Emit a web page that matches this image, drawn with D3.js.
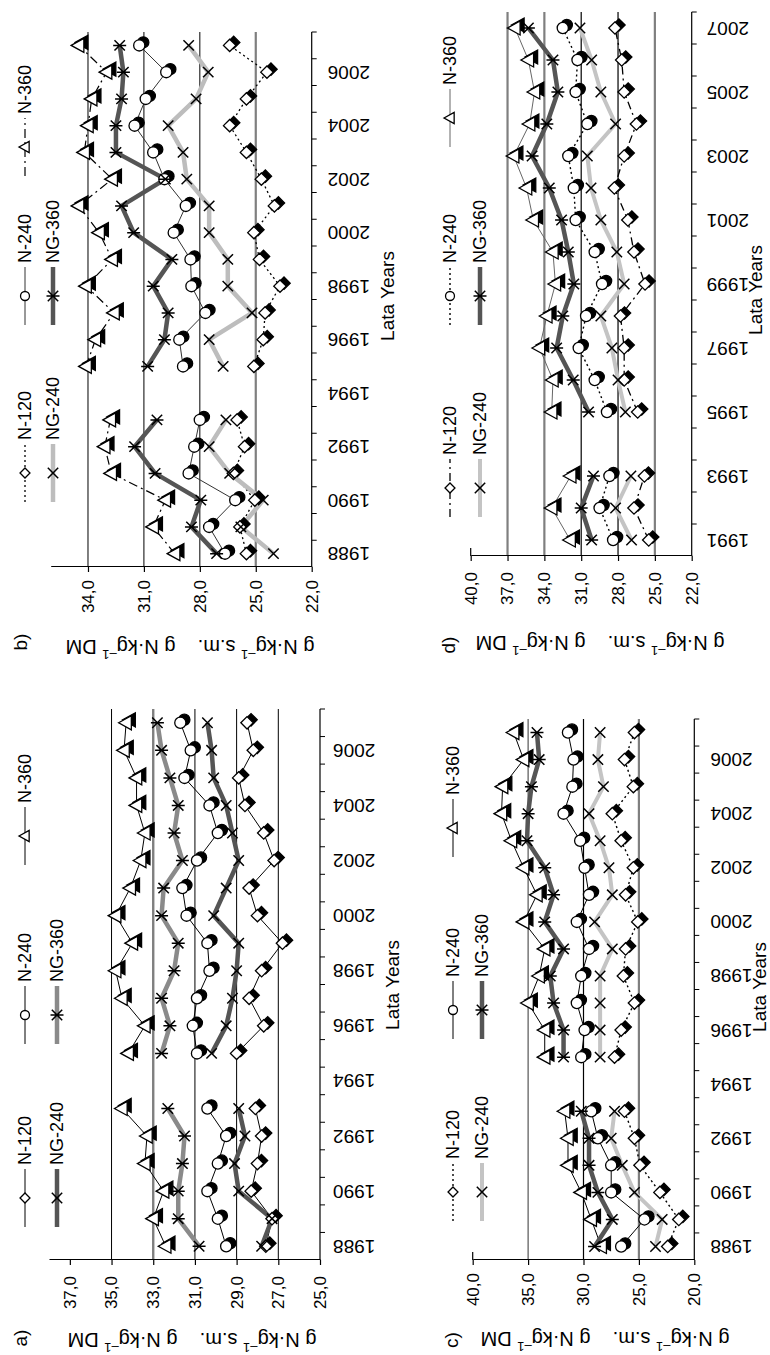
<!DOCTYPE html>
<html><head><meta charset="utf-8">
<script src="https://cdn.jsdelivr.net/npm/d3@7"></script>
<style>body{margin:0;background:#fff} text{font-family:"Liberation Sans",Arial,sans-serif;fill:#000}</style>
</head><body><svg id="c" width="770" height="1355"></svg>
<script>
// ---------- categories ----------
const yearsABC = [1988,1989,1990,1991,1992,1993,1994,1995,1996,1997,1998,1999,2000,2001,2002,2003,2004,2005,2006,2007];
const yearsD = [1991,1992,1993,1994,1995,1996,1997,1998,1999,2000,2001,2002,2003,2004,2005,2006,2007];
const yearLabelsABC = [1988,1990,1992,1994,1996,1998,2000,2002,2004,2006];
const yearLabelsD = [1991,1993,1995,1997,1999,2001,2003,2005,2007];
const ticksA = [25,27,29,31,33,35,37];
const ticksB = [22,25,28,31,34];
const ticksC = [20,25,30,35,40];
const ticksD = [22,25,28,31,34,37,40];
const seriesNames = ["N-120","N-240","N-360","NG-240","NG-360"];

// ---------- panel a ----------
const a_N120  = [27.6,27.3,28.3,28.0,27.8,28.1,null,29.0,27.7,28.4,27.8,26.8,28.0,28.4,27.2,27.7,28.6,28.9,28.2,28.5];
const a_N240  = [29.5,29.9,30.4,29.9,29.5,30.4,null,30.9,31.1,30.9,30.3,30.4,31.4,31.6,30.9,29.9,30.3,31.5,31.2,31.7];
const a_N360  = [32.4,33.0,32.5,33.4,33.3,34.5,null,34.2,33.4,34.5,34.8,34.0,34.8,34.1,33.6,33.4,33.8,33.8,34.4,34.3];
const a_NG240 = [27.8,27.3,28.9,29.1,28.6,28.9,null,30.2,29.5,29.2,29.0,28.9,30.1,29.5,28.9,29.2,29.5,30.1,30.2,30.4];
const a_NG360 = [30.8,31.8,31.8,31.6,31.5,32.3,null,32.6,32.2,32.6,32.0,31.8,32.6,32.5,31.6,32.0,31.8,32.2,32.6,32.8];
// ---------- panel b ----------
const b_N120  = [25.5,25.85,25.05,26.2,25.6,26.0,null,25.1,24.6,24.5,23.7,24.8,25.1,24.0,24.7,25.5,26.4,25.5,24.4,26.4];
const b_N240  = [26.65,27.5,26.1,28.6,28.3,28.0,null,28.9,29.1,27.7,28.45,28.5,29.4,28.75,29.9,30.5,31.5,30.9,29.8,31.25];
const b_N360  = [29.35,30.5,29.85,32.75,33.1,32.8,null,34.1,33.6,32.6,34.1,32.7,33.4,34.5,32.7,34.2,34.0,33.8,33.0,34.5];
const b_NG240 = [24.05,25.8,24.6,26.4,27.5,26.6,null,26.75,27.5,25.2,26.5,26.5,27.5,27.5,28.7,28.9,29.7,28.2,27.55,28.6];
const b_NG360 = [27.1,28.45,27.95,30.4,31.5,30.3,null,30.8,29.9,29.7,30.5,29.5,31.55,32.2,29.85,32.5,32.5,32.2,32.1,32.3];
// ---------- panel c ----------
const c_N120  = [22.4,21.4,23.1,24.9,25.4,26.3,null,27.2,26.6,25.4,26.4,26.2,25.1,26.2,25.5,26.6,27.4,25.5,26.3,25.4];
const c_N240  = [26.6,24.5,27.5,27.5,28.7,29.3,null,30.2,29.9,30.6,30.2,29.5,30.6,29.5,29.9,30.3,31.8,31.0,30.9,31.4];
const c_N360  = [28.4,29.3,30.2,31.4,31.4,31.7,null,33.5,33.5,35.0,34.0,33.5,35.4,34.2,35.4,36.5,37.4,37.3,35.4,36.3];
const c_NG240 = [23.5,22.9,25.4,26.5,27.5,27.2,null,28.5,28.5,28.5,28.5,27.4,29.0,27.4,27.7,28.5,29.5,28.2,28.7,28.5];
const c_NG360 = [29.0,27.4,28.7,29.5,29.5,30.2,null,31.8,31.8,32.7,33.0,31.8,33.5,32.7,33.5,35.1,35.0,34.7,34.0,34.2];
// ---------- panel d ----------
const d_N120  = [25.5,26.7,25.85,null,26.4,27.5,27.5,27.8,25.8,26.7,27.2,28.3,27.5,26.5,27.5,27.7,28.25];
const d_N240  = [28.4,29.5,28.7,null,28.9,29.9,31.2,30.6,29.3,29.9,31.45,31.6,32.05,30.5,31.45,31.3,32.5];
const d_N360  = [31.9,33.4,31.85,null,33.4,33.3,34.4,33.8,33.1,33.3,34.9,35.45,36.5,35.2,34.8,35.3,36.4];
const d_NG240 = [26.9,28.2,26.95,null,27.4,28.0,28.5,29.4,27.5,28.1,29.4,30.2,30.5,28.2,29.4,30.15,31.1];
const d_NG360 = [30.15,31.0,30.0,null,30.4,31.65,33.0,32.5,31.6,32.05,32.6,33.6,35.0,33.8,32.9,33.3,35.3];

const markers = ["diamond","circle","triangle","x","asterisk"];

const panels = [
 {tag:"a)", ox:0, oy:0, years:yearsABC, yearLabels:yearLabelsABC, data:[a_N120,a_N240,a_N360,a_NG240,a_NG360],
  x0:95, x1:646, domain:[25,38], yb:320, yt:49, ticks:ticksA, stub:false,
  grid:[[35,"#000",1],[33,"#7f7f7f",2.4],[31,"#000",1],[29,"#000",1],[27,"#000",1]],
  tickGap:16, yearGap:13, title:[15,192], tagPos:[17,20], xtitle:[370,392],
  legRows:[25,57], legCols:[157,340,519],
  styles:[{c:"#000",w:1},{c:"#000",w:1},{c:"#000",w:1},{c:"#555",w:4.5},{c:"#8a8a8a",w:4.5}]},
 {tag:"b)", ox:675, oy:0, years:yearsABC, yearLabels:yearLabelsABC, data:[b_N120,b_N240,b_N360,b_NG240,b_NG360],
  x0:113, x1:648, domain:[22,36], yb:311.7, yt:50.7, ticks:ticksB, stub:false,
  grid:[[34,"#000",1],[31,"#000",1],[28,"#000",1],[25,"#7f7f7f",2.2]],
  tickGap:13, yearGap:16, title:[33,190], tagPos:[38,20], xtitle:[384,387],
  legRows:[25,53], legCols:[207,384,533],
  styles:[{c:"#000",w:1.3,d:"2,3"},{c:"#333",w:1},{c:"#000",w:1.2,d:"9,4,2,4"},{c:"#bdbdbd",w:4.5},{c:"#555",w:4.5}]},
 {tag:"c)", ox:0, oy:385, years:yearsABC, yearLabels:yearLabelsABC, data:[c_N120,c_N240,c_N360,c_NG240,c_NG360],
  x0:95, x1:636, domain:[20,40], yb:309.3, yt:87.7, ticks:ticksC, stub:true,
  grid:[[35,"#333",1],[30,"#000",1.2],[25,"#7f7f7f",2.2]],
  tickGap:13, yearGap:16, title:[16,220], tagPos:[15,66], xtitle:[368,374],
  legRows:[68,97], legCols:[163,345,527],
  styles:[{c:"#000",w:1.4,d:"2,3"},{c:"#000",w:1},{c:"#000",w:1},{c:"#c4c4c4",w:4},{c:"#555",w:4.5}]},
 {tag:"d)", ox:675, oy:385, years:yearsD, yearLabels:yearLabelsD, data:[d_N120,d_N240,d_N360,d_NG240,d_NG360],
  x0:124, x1:668, domain:[22,40], yb:306.7, yt:85.7, ticks:ticksD, stub:true,
  grid:[[37,"#7f7f7f",2.2],[34,"#7f7f7f",2.2],[31,"#000",1.2],[28,"#000",1.2],[25,"#7f7f7f",2.2]],
  tickGap:16, yearGap:15, title:[37,215], tagPos:[35,63], xtitle:[390,370],
  legRows:[65,95], legCols:[192,384,562],
  styles:[{c:"#000",w:1.3,d:"8,4,2,4"},{c:"#000",w:1.4,d:"2,3"},{c:"#666",w:1},{c:"#c4c4c4",w:4},{c:"#555",w:4.5}]}
];

const svg = d3.select("#c");
svg.append("rect").attr("width",770).attr("height",1355).attr("fill","#fff");
const root = svg.append("g").attr("transform","translate(0,1355) rotate(-90)");
const fmt = v => v.toFixed(1).replace(".", ",");

function drawMarker(g, type, cx, cy, legend){
  const m = g.append("g").attr("transform",`translate(${cx},${cy})`);
  const k = legend ? 0.8 : 1;
  let path = null;
  if(type==="diamond") path = `M0,${-6.2*k}L${6.2*k},0L0,${6.2*k}L${-6.2*k},0Z`;
  if(type==="triangle") path = `M0,${-7.5*k}L${7*k},${5.2*k}L${-7*k},${5.2*k}Z`;
  if(type==="circle" || path){
    const layers = legend ? [1] : [0,1];
    layers.forEach(i=>{
      const el = m.append("g").attr("transform", i===0 ? "translate(3,4)" : null);
      const s = type==="circle" ? el.append("circle").attr("r",5.6*k) : el.append("path").attr("d",path);
      s.attr("fill", i===0 ? "#000" : "#fff").attr("stroke","#000").attr("stroke-width",1.3);
    });
  } else {
    const r = 5.2;
    m.append("path").attr("d",`M${-r},${-r}L${r},${r}M${-r},${r}L${r},${-r}` + (type==="asterisk" ? `M0,-6.5L0,6.5` : ""))
      .attr("stroke","#000").attr("stroke-width",1.5).attr("fill","none");
  }
}

panels.forEach(p=>{
  const g = root.append("g").attr("transform",`translate(${p.ox},${p.oy})`);
  const x = d3.scaleBand().domain(p.years).range([p.x0,p.x1]).padding(0);
  const bw = x.bandwidth();
  const cx = yr => x(yr)+bw/2;
  const y = d3.scaleLinear().domain(p.domain).range([p.yb,p.yt]);

  // grid lines
  p.grid.forEach(([v,c,w])=>{
    g.append("line").attr("x1",p.x0).attr("x2",p.x1).attr("y1",y(v)).attr("y2",y(v))
      .attr("stroke",c).attr("stroke-width",w);
  });

  // value axis
  const ax = g.append("g").attr("transform",`translate(${p.x0},0)`)
    .call(d3.axisLeft(y).tickValues(p.ticks).tickSizeInner(5).tickSizeOuter(0).tickPadding(p.tickGap-5).tickFormat(fmt));
  ax.select(".domain").attr("stroke","#000").attr("stroke-width",1.2);
  ax.selectAll(".tick line").attr("stroke","#000").attr("stroke-width",1.2);
  ax.selectAll(".tick text").attr("font-size",17).attr("font-family","Liberation Sans, Arial, sans-serif").attr("fill","#000");
  if(p.stub) g.append("line").attr("x1",p.x0).attr("x2",p.x0+8).attr("y1",p.yt).attr("y2",p.yt).attr("stroke","#000").attr("stroke-width",1.2);

  // year axis
  g.append("line").attr("x1",p.x0).attr("x2",p.x1).attr("y1",p.yb).attr("y2",p.yb).attr("stroke","#000").attr("stroke-width",1.2);
  p.years.forEach((yr,i)=>{
    const xx = x(yr);
    g.append("line").attr("x1",xx+bw).attr("x2",xx+bw).attr("y1",p.yb).attr("y2",p.yb+5).attr("stroke","#000").attr("stroke-width",1);
  });
  p.yearLabels.forEach(yr=>{
    g.append("text").attr("transform",`translate(${cx(yr)},${p.yb+p.yearGap}) rotate(-90)`)
      .attr("text-anchor","end").attr("dominant-baseline","central").attr("font-size",19).text(yr);
  });

  // series lines
  p.data.forEach((arr,si)=>{
    const st = p.styles[si];
    const line = d3.line().defined(d=>d.v!=null).x(d=>cx(d.yr)).y(d=>y(d.v));
    const pts = p.years.map((yr,i)=>({yr, v:arr[i]}));
    g.append("path").attr("d",line(pts)).attr("fill","none").attr("stroke",st.c)
      .attr("stroke-width",st.w).attr("stroke-dasharray",st.d||null).attr("stroke-linejoin","round");
  });
  // markers
  p.data.forEach((arr,si)=>{
    p.years.forEach((yr,i)=>{ if(arr[i]!=null) drawMarker(g, markers[si], cx(yr), y(arr[i]), false); });
  });

  // legend
  const legPos = [[0,0],[1,0],[2,0],[0,1],[1,1]];
  seriesNames.forEach((nm,si)=>{
    const [ci,ri] = legPos[si];
    const sx = p.legCols[ci], sy = p.legRows[ri], st = p.styles[si];
    g.append("line").attr("x1",sx-29).attr("x2",sx+29).attr("y1",sy).attr("y2",sy)
      .attr("stroke",st.c).attr("stroke-width",st.w).attr("stroke-dasharray",st.d||null);
    drawMarker(g, markers[si], sx, sy, true);
    g.append("text").attr("x",sx+33).attr("y",sy).attr("dominant-baseline","central").attr("font-size",18).text(nm);
  });

  // axis title (rotated)
  const t = g.append("text").attr("transform",`translate(${p.title[0]},${p.title[1]}) rotate(-90)`)
    .attr("text-anchor","middle").attr("dominant-baseline","central").attr("font-size",20);
  t.append("tspan").text("g N·kg");
  t.append("tspan").attr("font-size",13).attr("dy",-8).text("–1");
  t.append("tspan").attr("dy",8).text(" s.m.\u00a0\u00a0\u00a0 g N·kg");
  t.append("tspan").attr("font-size",13).attr("dy",-8).text("–1");
  t.append("tspan").attr("dy",8).text(" DM");

  // panel tag
  g.append("text").attr("x",p.tagPos[0]).attr("y",p.tagPos[1]).attr("text-anchor","middle")
    .attr("dominant-baseline","central").attr("font-size",19).text(p.tag);
  // x title
  g.append("text").attr("x",p.xtitle[0]).attr("y",p.xtitle[1]).attr("text-anchor","middle")
    .attr("dominant-baseline","central").attr("font-size",19).text("Lata Years");
});
</script></body></html>
